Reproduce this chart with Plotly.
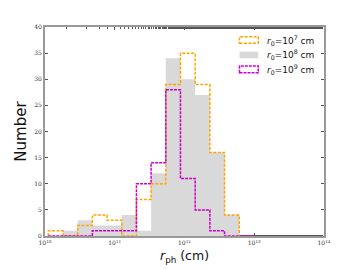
import numpy as np
import plotly.graph_objects as go

# log10 bin edges (cm)
edges_log = [10.047, 10.258, 10.468, 10.679, 10.889, 11.100, 11.311, 11.521,
             11.732, 11.942, 12.153, 12.364, 12.574, 12.785, 12.995]

counts_r7 = [1, 0, 2, 4, 3, 0, 7, 10, 29, 35, 29, 16, 4]
counts_r8 = [0, 1, 3, 2, 2, 4, 1, 12, 34, 30, 27, 16, 4]
counts_r9 = [0, 0, 0, 1, 1, 1, 10, 14, 28, 11, 5, 1, 0, 0]

labels = ["<i>r</i><sub>0</sub>=10<sup>7</sup> cm",
          "<i>r</i><sub>0</sub>=10<sup>8</sup> cm",
          "<i>r</i><sub>0</sub>=10<sup>9</sup> cm"]

xtick_vals = [1e10, 1e11, 1e12, 1e13, 1e14]
xtick_text = ["10<sup>10</sup>", "10<sup>11</sup>", "10<sup>12</sup>",
              "10<sup>13</sup>", "10<sup>14</sup>"]
ytick_vals = [0, 5, 10, 15, 20, 25, 30, 35, 40]

ORANGE = "#ffa500"
GRAY = "#d9d9d9"
MAGENTA = "#cc00cc"

W, H = 352, 262
ML, MR, MT, MB = 37, 36, 19, 34
PW, PH = W - ML - MR, H - MT - MB


def step_xy(counts):
    n = len(counts)
    e = [10 ** v for v in edges_log[: n + 1]]
    xs = [e[0]] + e
    ys = [0] + list(counts) + [0]
    return xs, ys


def px(fx):
    return (fx - ML) / PW


def py(fy):
    return 1 - (fy - MT) / PH


fig = go.Figure()

x8, y8 = step_xy(counts_r8)
fig.add_trace(go.Scatter(x=x8, y=y8, mode="lines", line_shape="hv",
                         line=dict(width=0, color=GRAY),
                         fill="tozeroy", fillcolor=GRAY,
                         name=labels[1], showlegend=False))

x7, y7 = step_xy(counts_r7)
fig.add_trace(go.Scatter(x=x7, y=y7, mode="lines", line_shape="hv",
                         line=dict(width=1.5, color=ORANGE, dash="3px,1.5px"),
                         name=labels[0], showlegend=False))

x9, y9 = step_xy(counts_r9)
fig.add_trace(go.Scatter(x=x9, y=y9, mode="lines", line_shape="hv",
                         line=dict(width=1.5, color=MAGENTA, dash="3px,1px"),
                         name=labels[2], showlegend=False))

# manual legend (box symbols like matplotlib)
leg_items = [
    (labels[0], ORANGE, "rgba(0,0,0,0)", "3px,1.5px", 1.5, 28.7, 35.3, 32.0),
    (labels[1], GRAY, GRAY, "solid", 0, 43.7, 50.3, 46.6),
    (labels[2], MAGENTA, "rgba(0,0,0,0)", "3px,1px", 1.5, 58.0, 64.7, 61.4),
]
for text, lc, fc, dash, lw, y0, y1, yt in leg_items:
    fig.add_shape(type="rect", xref="paper", yref="paper",
                  x0=px(231.5), x1=px(250.3), y0=py(y1), y1=py(y0),
                  line=dict(color=lc, width=lw, dash=dash), fillcolor=fc)
    fig.add_annotation(xref="paper", yref="paper", x=px(256.5), y=py(yt),
                       xanchor="left", yanchor="middle", showarrow=False,
                       text=text, font=dict(family="DejaVu Sans", size=9, color="#111111"))

axis_common = dict(showline=True, mirror="ticks", linecolor="#999999", linewidth=2,
                   ticks="inside", tickcolor="#555555", ticklen=3, tickwidth=1,
                   showgrid=False, zeroline=False, layer="below traces",
                   tickfont=dict(family="DejaVu Serif", size=6, color="#333333"))

fig.update_xaxes(type="log", range=[10, 14], tickvals=xtick_vals, ticktext=xtick_text,
                 minor=dict(ticks="inside", ticklen=1.5, tickcolor="#555555", showgrid=False),
                 title=dict(text="<i>r</i><sub>ph</sub> (cm)", standoff=6,
                            font=dict(family="DejaVu Sans", size=12.5, color="#111111")),
                 **axis_common)
fig.update_yaxes(range=[0, 40], tickvals=ytick_vals,
                 title=dict(text="Number", standoff=4,
                            font=dict(family="DejaVu Sans", size=15, color="#111111")),
                 **axis_common)

fig.update_layout(
    width=W, height=H,
    margin=dict(l=ML, r=MR, t=MT, b=MB, autoexpand=False),
    paper_bgcolor="white", plot_bgcolor="white",
    font=dict(family="DejaVu Sans"),
    showlegend=False,
)

fig.write_html("out.html")
